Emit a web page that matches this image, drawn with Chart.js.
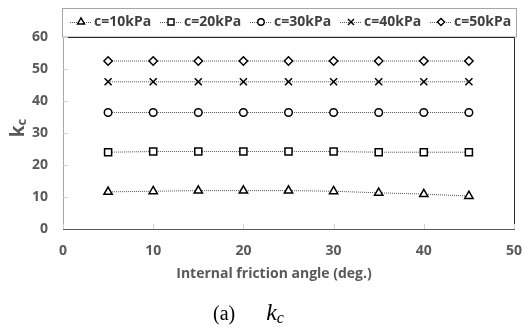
<!DOCTYPE html>
<html>
<head>
<meta charset="utf-8">
<script src="https://cdn.jsdelivr.net/npm/chart.js@4.4.1/dist/chart.umd.min.js"></script>
<style>
  html, body { margin: 0; padding: 0; background: #fff; }
  #wrap { position: relative; width: 523px; height: 332px; }
  #caption { position: absolute; left: 213px; top: 299px; font-family: "Liberation Serif", "DejaVu Serif", serif; font-size: 20px; color: #000; white-space: nowrap; }
  #caption i { font-size: 24px; margin-left: 31px; }
  #caption sub { font-size: 16px; font-style: italic; vertical-align: -3px; }
</style>
</head>
<body>
<div id="wrap">
  <canvas id="c" width="523" height="332"></canvas>
  <div id="caption">(a)<i>k</i><sub>c</sub></div>
</div>
<script>
// ---- data ----
const angles = [5, 10, 15, 20, 25, 30, 35, 40, 45];
const c10 = [11.6, 11.8, 12.0, 12.0, 12.0, 11.8, 11.3, 10.9, 10.3];
const c20 = [24.0, 24.2, 24.2, 24.2, 24.2, 24.2, 24.0, 24.0, 24.0];
const c30 = [36.4, 36.4, 36.4, 36.4, 36.4, 36.4, 36.4, 36.4, 36.4];
const c40 = [46.0, 46.0, 46.0, 46.0, 46.0, 46.0, 46.0, 46.0, 46.0];
const c50 = [52.5, 52.5, 52.5, 52.5, 52.5, 52.5, 52.5, 52.5, 52.5];
const seriesLabels = ['c=10kPa', 'c=20kPa', 'c=30kPa', 'c=40kPa', 'c=50kPa'];
const xTicks = [0, 10, 20, 30, 40, 50];
const yTicks = [0, 10, 20, 30, 40, 50, 60];
const xTitle = 'Internal friction angle (deg.)';
const yTitleMain = 'k';
const yTitleSub = 'c';

const seriesValues = [c10, c20, c30, c40, c50];
const styles = [
  { pointStyle: 'triangle', r: 4.8 },
  { pointStyle: 'rect', r: 5 },
  { pointStyle: 'circle', r: 3.8 },
  { pointStyle: 'crossRot', r: 5 },
  { pointStyle: 'rectRot', r: 4.2 }
];
const FONT = '"Open Sans", sans-serif';
const GREY = '#595959';

const datasets = seriesValues.map((vals, i) => ({
  label: seriesLabels[i],
  data: angles.map((a, j) => ({ x: a, y: vals[j] })),
  showLine: true,
  borderColor: '#555',
  borderWidth: 1,
  borderDash: [1, 1],
  pointStyle: styles[i].pointStyle,
  pointRadius: styles[i].r,
  pointHoverRadius: styles[i].r,
  pointBorderColor: '#000',
  pointBackgroundColor: '#fff',
  pointBorderWidth: 1.5
}));

function drawMarker(ctx, style, r, x, y) {
  if (Chart.helpers && Chart.helpers.drawPoint) {
    ctx.save();
    ctx.strokeStyle = '#000'; ctx.fillStyle = '#fff'; ctx.lineWidth = 1.4;
    ctx.setLineDash([]);
    Chart.helpers.drawPoint(ctx, { pointStyle: style, radius: r, rotation: 0, borderWidth: 1.4 }, x, y);
    ctx.restore();
  }
}

const decor = {
  id: 'decor',
  afterDraw(chart) {
    const ctx = chart.ctx;
    const a = chart.chartArea;
    const xs = chart.scales.x, ys = chart.scales.y;
    ctx.save();
    // legend box
    ctx.strokeStyle = '#a6a6a6'; ctx.lineWidth = 1;
    ctx.strokeRect(62.5, 8.5, 454, a.top - 8.5);
    // plot border: top/right dark
    ctx.strokeStyle = '#262626';
    ctx.beginPath();
    ctx.moveTo(a.left, a.top + 0.5); ctx.lineTo(a.right + 0.5, a.top + 0.5);
    ctx.lineTo(a.right + 0.5, a.bottom);
    ctx.stroke();
    // left axis grey
    ctx.strokeStyle = '#a6a6a6';
    ctx.beginPath(); ctx.moveTo(a.left + 0.5, a.top); ctx.lineTo(a.left + 0.5, a.bottom + 1); ctx.stroke();
    // y inward ticks
    ctx.strokeStyle = '#d0d0d0';
    yTicks.forEach(v => {
      const py = Math.round(ys.getPixelForValue(v)) + 0.5;
      ctx.beginPath(); ctx.moveTo(a.left, py); ctx.lineTo(a.left + 5, py); ctx.stroke();
    });
    // bottom axis
    ctx.strokeStyle = '#595959';
    ctx.beginPath(); ctx.moveTo(a.left, a.bottom + 0.5); ctx.lineTo(a.right + 1, a.bottom + 0.5); ctx.stroke();
    ctx.strokeStyle = '#d0d0d0';
    xTicks.forEach(v => {
      const px = Math.round(xs.getPixelForValue(v)) + 0.5;
      ctx.beginPath(); ctx.moveTo(px, a.bottom); ctx.lineTo(px, a.bottom - 5); ctx.stroke();
    });
    // legend entries
    ctx.font = 'bold 14px ' + FONT;
    ctx.textBaseline = 'middle';
    ctx.textAlign = 'left';
    const ly = 22;
    seriesLabels.forEach((lab, i) => {
      const tx = 94 + i * 90;
      const mx = tx - 13;
      ctx.strokeStyle = '#555'; ctx.lineWidth = 1; ctx.setLineDash([1, 1]);
      ctx.beginPath(); ctx.moveTo(mx - 11, ly + 0.5); ctx.lineTo(mx + 10, ly + 0.5); ctx.stroke();
      ctx.setLineDash([]);
      drawMarker(ctx, styles[i].pointStyle, styles[i].r * 0.85, mx, ly);
      ctx.fillStyle = '#404040';
      ctx.fillText(lab, tx, ly);
    });
    // x title
    ctx.fillStyle = GREY;
    ctx.font = 'bold 14px ' + FONT;
    ctx.textAlign = 'center';
    ctx.fillText(xTitle, 274, 274);
    // y title rotated ("k" + subscript "c")
    ctx.translate(24, 128);
    ctx.rotate(-Math.PI / 2);
    ctx.textAlign = 'left';
    ctx.textBaseline = 'alphabetic';
    ctx.font = 'bold 19px ' + FONT;
    const wk = ctx.measureText(yTitleMain).width;
    ctx.font = 'bold 13px ' + FONT;
    const wc = ctx.measureText(yTitleSub).width;
    const u0 = -(wk + wc) / 2;
    ctx.font = 'bold 19px ' + FONT;
    ctx.fillText(yTitleMain, u0, 0);
    ctx.font = 'bold 13px ' + FONT;
    ctx.fillText(yTitleSub, u0 + wk, 1.5);
    ctx.restore();
  }
};

new Chart(document.getElementById('c'), {
  type: 'scatter',
  data: { datasets },
  options: {
    responsive: false,
    devicePixelRatio: 1,
    animation: false,
    events: [],
    layout: { padding: { left: 0, top: 37, right: 9, bottom: 43 } },
    plugins: { legend: { display: false }, tooltip: { enabled: false }, title: { display: false } },
    scales: {
      x: {
        type: 'linear', min: 0, max: 50,
        afterFit(s) { s.height = 60; s.paddingLeft = 0; s.paddingRight = 0; },
        afterBuildTicks(s) { s.ticks = xTicks.map(v => ({ value: v })); },
        grid: { display: false, drawTicks: false },
        border: { display: false },
        ticks: { padding: 14, color: GREY, font: { family: FONT, size: 14, weight: 'bold' }, maxRotation: 0 }
      },
      y: {
        type: 'linear', min: 0, max: 60,
        afterFit(s) { s.width = 63; s.paddingTop = 0; s.paddingBottom = 0; },
        afterBuildTicks(s) { s.ticks = yTicks.map(v => ({ value: v })); },
        grid: { display: false, drawTicks: false },
        border: { display: false },
        ticks: { padding: 15, color: GREY, font: { family: FONT, size: 14, weight: 'bold' } }
      }
    }
  },
  plugins: [decor]
});
</script>
</body>
</html>
